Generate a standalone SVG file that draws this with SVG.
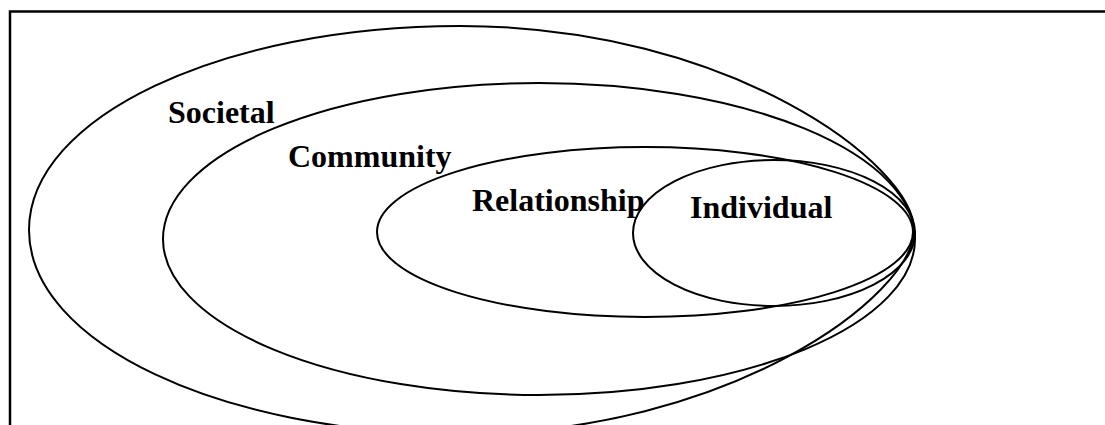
<svg xmlns="http://www.w3.org/2000/svg" width="1105" height="425" viewBox="0 0 1105 425">
<style>
.ring{fill:none;stroke:#000;stroke-width:2}
.lbl{font-family:"Liberation Serif","Times New Roman",serif;font-weight:bold;font-size:32px;fill:#000}
.frame{fill:none;stroke:#000;stroke-width:2.5}
</style>
<rect width="1105" height="425" fill="#fff"/>
<path class="frame" d="M10,425 V11.5 H1105"/>
<g id="societal">
<path class="ring" d="M29,230 C29,117 222,26 460,26 C730,26 914,165 914,230 C914,295 730,434 460,434 C222,434 29,343 29,230 Z"/>
<text class="lbl" x="168" y="123">Societal</text>
</g>
<g id="community">
<ellipse class="ring" cx="539" cy="239" rx="376" ry="156"/>
<text class="lbl" x="288" y="167">Community</text>
</g>
<g id="relationship">
<ellipse class="ring" cx="645" cy="232" rx="268" ry="85"/>
<text class="lbl" x="472" y="211">Relationship</text>
</g>
<g id="individual">
<ellipse class="ring" cx="774" cy="233" rx="141" ry="73"/>
<text class="lbl" x="690" y="218">Individual</text>
</g>
<g id="connectors"/>
</svg>
